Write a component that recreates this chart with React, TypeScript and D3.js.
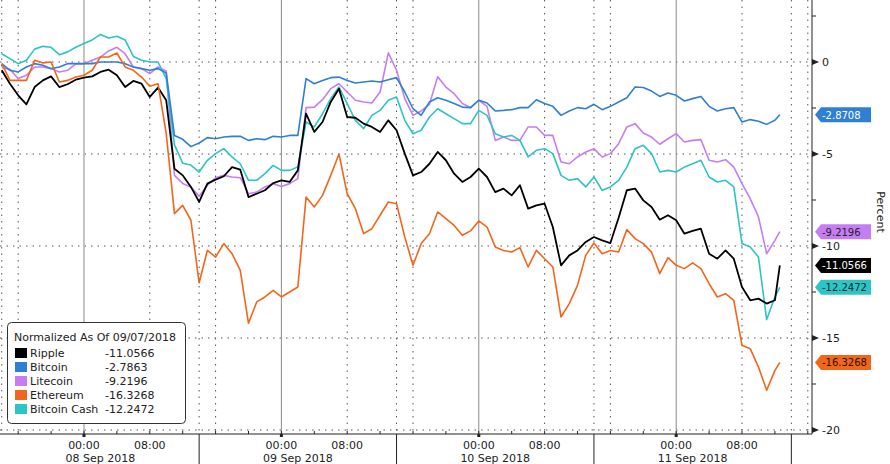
import React from "react";
import * as d3 from "d3";

const HOUR = 3600 * 1000;
// hourly samples starting 07 Sep 2018 14:00, final sample at the last print
const START = Date.UTC(2018, 8, 7, 14, 0);
const LAST_H = 94.6;

const ripple = [
  -0.45, -1.18, -1.81, -2.3, -1.36, -1.0, -0.78, -1.36, -1.21, -0.96,
  -0.85, -0.78, -0.54, -0.42, -0.72, -1.36, -1.03, -1.18, -1.9, -1.39,
  -2.08, -5.8, -6.16, -6.79, -7.6, -6.61, -6.39, -6.21, -5.71, -5.85,
  -7.34, -7.16, -6.97, -6.58, -6.43, -6.52, -5.89, -2.8, -3.8, -3.26,
  -2.17, -1.45, -2.99, -3.03, -3.35, -3.53, -3.8, -3.17, -3.71, -4.98,
  -6.16, -5.98, -5.53, -4.89, -5.34, -6.07, -6.52, -6.25, -5.8, -6.25,
  -7.07, -6.88, -7.25, -6.7, -7.97, -7.79, -7.7, -8.97, -11.05, -10.51,
  -10.24, -9.78, -9.51, -9.69, -9.84, -8.46, -6.97, -6.88, -7.52, -7.88,
  -8.57, -8.33, -8.6, -9.33, -9.18, -9.06, -10.42, -10.69, -10.24, -10.69,
  -12.23, -12.95, -12.86, -13.13, -12.95,
];
const bitcoin = [
  -0.09, -0.45, -0.54, -0.27, -0.09, -0.18, -0.36, -0.27, -0.09, -0.09,
  -0.09, -0.09, 0.0, 0.0, 0.0, -0.09, -0.27, -0.36, -0.45, -0.36,
  -0.6, -4.0, -4.2, -4.6, -4.4, -4.11, -4.17, -4.08, -4.04, -4.04,
  -4.26, -4.17, -4.22, -4.04, -4.08, -3.99, -3.99, -0.9, -1.18, -1.0,
  -0.85, -0.82, -1.0, -1.14, -1.09, -1.03, -1.09, -0.96, -0.85, -1.63,
  -2.54, -2.9, -2.17, -1.94, -2.08, -2.26, -2.45, -2.48, -2.08, -2.23,
  -2.66, -2.63, -2.59, -2.48, -2.48, -2.05, -2.26, -2.41, -2.9, -2.66,
  -2.48, -2.54, -2.3, -2.59, -2.41, -2.17, -1.94, -1.36, -1.39, -1.58,
  -1.87, -1.68, -1.81, -2.12, -1.99, -1.87, -2.41, -2.66, -2.54, -2.48,
  -3.26, -3.13, -3.22, -3.39, -3.17,
];
const litecoin = [
  -0.3, -0.4, -0.9, -0.72, -0.27, -0.27, -0.36, -0.54, -0.45, -0.1,
  -0.1, 0.1, 0.27, 0.6, 0.8, 0.45, -0.27, -0.36, -0.63, -0.27,
  -0.5, -6.16, -6.6, -6.8, -7.3, -6.7, -6.29, -6.16, -6.25, -6.29,
  -7.16, -7.07, -6.79, -6.61, -6.76, -6.61, -6.34, -2.48, -2.45, -2.05,
  -1.45, -1.18, -1.63, -2.08, -2.17, -2.23, -1.63, 0.5, -0.45, -1.99,
  -2.9, -2.66, -2.3, -0.8, -1.36, -1.72, -2.26, -2.48, -2.08, -2.41,
  -4.26, -4.08, -4.26, -4.26, -3.53, -3.53, -3.99, -3.99, -5.43, -5.53,
  -5.16, -4.89, -4.71, -5.16, -4.98, -4.44, -3.53, -3.35, -3.86, -4.08,
  -4.47, -4.17, -3.89, -4.35, -4.26, -4.22, -5.34, -5.43, -5.31, -5.71,
  -6.61, -7.43, -8.42, -10.42, -9.69,
];
const ethereum = [
  -0.09, -1.0, -1.0, -1.0, 0.09, -0.05, 0.0, -1.09, -1.0, -0.82,
  -0.72, -0.45, 0.27, 0.27, 0.49, -0.27, -0.45, -0.82, -1.32, -1.18,
  -3.89, -8.24, -7.79, -8.6, -12.0, -10.24, -10.6, -9.87, -10.42, -11.32,
  -14.2, -13.04, -12.77, -12.41, -12.77, -12.5, -12.23, -7.34, -7.88, -7.25,
  -6.16, -5.0, -7.16, -7.97, -9.33, -9.06, -8.33, -7.61, -7.7, -9.51,
  -11.05, -9.87, -9.33, -8.15, -8.51, -8.88, -9.42, -9.18, -8.64, -8.97,
  -10.05, -10.24, -10.33, -10.09, -11.14, -10.24, -10.69, -11.14, -13.86, -13.13,
  -12.14, -10.51, -9.84, -10.42, -10.24, -10.33, -9.11, -9.6, -9.87, -10.33,
  -11.5, -10.63, -11.05, -11.23, -10.92, -11.23, -12.05, -12.77, -12.59, -12.95,
  -15.4, -15.58, -16.58, -17.84, -16.76,
];
const bitcoinCash = [
  0.45, 0.18, -0.09, 0.1, 0.7, 0.85, 0.8, 0.4, 0.55, 0.8,
  1.0, 1.2, 1.5, 1.3, 1.4, 1.2, 0.3, 0.1, 0.0, 0.0,
  -0.9, -4.5, -5.5, -5.6, -5.98, -5.34, -4.98, -4.71, -5.16, -5.53,
  -6.43, -6.43, -6.07, -5.62, -5.89, -5.89, -5.7, -3.26, -3.53, -2.81,
  -1.99, -1.36, -2.26, -3.17, -3.62, -2.9, -2.63, -2.08, -1.9, -3.17,
  -3.9, -3.71, -2.99, -2.54, -2.81, -3.08, -3.35, -3.35, -2.63, -2.9,
  -3.9, -4.08, -3.99, -4.26, -5.16, -4.8, -4.71, -4.98, -6.16, -6.43,
  -6.34, -6.79, -6.25, -6.97, -6.79, -6.43, -5.71, -4.71, -4.53, -4.98,
  -5.98, -5.89, -5.98, -5.71, -5.53, -5.34, -6.25, -6.52, -6.43, -6.79,
  -9.87, -10.05, -10.6, -14.0, -12.77,
];

const seriesNames = ["Ripple", "Bitcoin", "Litecoin", "Ethereum", "Bitcoin Cash"];
const legendValues = ["-11.0566", "-2.7863", "-9.2196", "-16.3268", "-12.2472"];
const lastValues = [-11.0566, -2.8708, -9.2196, -16.3268, -12.2472];
const tagLabels = ["-11.0566", "-2.8708", "-9.2196", "-16.3268", "-12.2472"];
const seriesData = [ripple, bitcoin, litecoin, ethereum, bitcoinCash];
const yTicks = [0, -5, -10, -15, -20];
const yTickLabels = ["0", "-5", "-10", "-15", "-20"];
const xTickLabels = ["00:00", "08:00"];
const dayLabels = ["08 Sep 2018", "09 Sep 2018", "10 Sep 2018", "11 Sep 2018"];
const legendTitle = "Normalized As Of 09/07/2018";

const COLORS = ["#000000", "#2f7fd3", "#c47ef0", "#f2661c", "#2cc4c4"];
const TAG_TEXT = ["#ffffff", "#ffffff", "#2a1a36", "#2a1208", "#0c2a2a"];
const DRAW_ORDER = [2, 4, 1, 0, 3];
const FONT = "DejaVu Sans, Verdana, sans-serif";

export default function App() {
  const W = 890;
  const H = 464;
  const plotR = 812;
  const plotB = 434;

  const x = d3
    .scaleUtc()
    .domain([new Date(START - 0.21 * HOUR), new Date(START + 98.51 * HOUR)])
    .range([0, plotR]);
  const y = d3.scaleLinear().domain([0, -20]).range([62, 430]);

  const [d0, d1] = x.domain();
  const grid8 = d3.utcHour.every(8)!.range(d0, d1);
  const ticks4 = d3.utcHour.every(4)!.range(d0, d1);
  const days = d3.utcDay.range(new Date(Date.UTC(2018, 8, 7)), new Date(Date.UTC(2018, 8, 11, 1)));
  const separators = days.map((d) => d3.utcHour.offset(d, 14));
  const fmt = d3.utcFormat("%H:%M");
  const labelTicks = ticks4.filter((t) => xTickLabels.includes(fmt(t)));
  const minorY = d3.range(2.5, -20, -2.5);

  const line = d3
    .line<{ t: Date; v: number }>()
    .x((d) => x(d.t))
    .y((d) => y(d.v))
    .curve(d3.curveLinear);

  const series = seriesData.map((vals, k) => {
    const pts = vals.map((v, i) => ({ t: new Date(START + i * HOUR), v }));
    pts.push({ t: new Date(START + LAST_H * HOUR), v: lastValues[k] });
    return pts;
  });

  return (
    <svg
      width={W}
      height={H}
      style={{ position: "absolute", left: 0, top: 0, background: "#fff" }}
      fontFamily={FONT}
    >
      <rect x={0} y={0} width={W} height={H} fill="#fff" />
      <defs>
        <clipPath id="plotclip">
          <rect x={0} y={0} width={plotR} height={plotB} />
        </clipPath>
      </defs>

      {/* horizontal grid */}
      {yTicks.map((v) => (
        <line key={"hg" + v} x1={0} x2={plotR} y1={y(v)} y2={y(v)} stroke="#555" strokeWidth={1} strokeDasharray="1.5,5" />
      ))}
      {/* vertical grid */}
      {grid8.map((t) =>
        t.getUTCHours() === 0 ? (
          <line key={"vg" + +t} x1={x(t)} x2={x(t)} y1={0} y2={plotB} stroke="#8a8a8a" strokeWidth={1} />
        ) : (
          <line key={"vg" + +t} x1={x(t)} x2={x(t)} y1={0} y2={plotB} stroke="#555" strokeWidth={1} strokeDasharray="1.5,5" />
        )
      )}
      {separators.map((t) => (
        <line key={"sp" + +t} x1={x(t)} x2={x(t)} y1={0} y2={plotB} stroke="#555" strokeWidth={1} strokeDasharray="1.5,5" />
      ))}

      {/* series */}
      <g clipPath="url(#plotclip)">
        {DRAW_ORDER.map((k) => (
          <path
            key={seriesNames[k]}
            d={line(series[k]) || ""}
            fill="none"
            stroke={COLORS[k]}
            strokeWidth={k === 0 ? 1.8 : 1.6}
            strokeLinejoin="round"
          />
        ))}
      </g>

      {/* bottom axis */}
      <line x1={0} x2={plotR} y1={plotB} y2={plotB} stroke="#222" strokeWidth={1} />
      {ticks4.map((t) => (
        <line key={"xt" + +t} x1={x(t)} x2={x(t)} y1={plotB - 3} y2={plotB} stroke="#222" strokeWidth={1} />
      ))}
      {ticks4
        .filter((t) => t.getUTCHours() === 0)
        .map((t) => (
          <rect key={"xm" + +t} x={x(t) - 1.5} y={plotB} width={3} height={3} fill="#222" />
        ))}
      {separators
        .filter((t) => x(t) > 10)
        .map((t) => (
          <line key={"sb" + +t} x1={x(t)} x2={x(t)} y1={plotB} y2={H} stroke="#222" strokeWidth={1} />
        ))}
      {labelTicks.map((t) => (
        <text key={"xl" + +t} x={x(t)} y={449} fontSize={11} textAnchor="middle" fill="#222">
          {fmt(t)}
        </text>
      ))}
      {dayLabels.map((lab, i) => (
        <text
          key={lab}
          x={(x(separators[i]) + x(d3.utcDay.offset(separators[i], 1))) / 2}
          y={462}
          fontSize={11}
          textAnchor="middle"
          fill="#222"
        >
          {lab}
        </text>
      ))}

      {/* right axis */}
      <line x1={plotR} x2={plotR} y1={0} y2={plotB} stroke="#222" strokeWidth={1} />
      {minorY.map((v) => (
        <line key={"my" + v} x1={plotR} x2={plotR + 4} y1={y(v)} y2={y(v)} stroke="#222" strokeWidth={1} />
      ))}
      {yTicks.map((v, i) => (
        <g key={"yt" + v}>
          <path d={`M${plotR},${y(v) - 3}L${plotR + 7},${y(v)}L${plotR},${y(v) + 3}Z`} fill="#222" />
          <text x={plotR + 10} y={y(v) + 4} fontSize={11} fill="#222">
            {yTickLabels[i]}
          </text>
        </g>
      ))}
      <text
        transform={`translate(877,${212}) rotate(90)`}
        fontSize={11}
        textAnchor="middle"
        fill="#222"
      >
        Percent
      </text>

      {/* value tags */}
      {lastValues.map((v, k) => {
        const yc = y(v);
        const x0 = plotR + 3;
        return (
          <g key={"tag" + k}>
            <path
              d={`M${x0},${yc}L${x0 + 6},${yc - 7.5}L${x0 + 56},${yc - 7.5}L${x0 + 56},${yc + 7.5}L${x0 + 6},${yc + 7.5}Z`}
              fill={COLORS[k]}
            />
            <text x={x0 + 7} y={yc + 4} fontSize={10} fill={TAG_TEXT[k]}>
              {tagLabels[k]}
            </text>
          </g>
        );
      })}

      {/* legend */}
      <g>
        <rect x={7.5} y={322.5} width={178} height={101} rx={4} fill="#fff" stroke="#333" strokeWidth={1} />
        <text x={14} y={341} fontSize={11} fill="#222">
          {legendTitle}
        </text>
        {seriesNames.map((name, k) => {
          const yy = 357 + k * 14;
          return (
            <g key={"lg" + name}>
              <rect x={15} y={yy - 9} width={12} height={10} fill={COLORS[k]} />
              <text x={30} y={yy} fontSize={11} fill="#222">
                {name}
              </text>
              <text x={105} y={yy} fontSize={11} fill="#222">
                {legendValues[k]}
              </text>
            </g>
          );
        })}
      </g>
    </svg>
  );
}
